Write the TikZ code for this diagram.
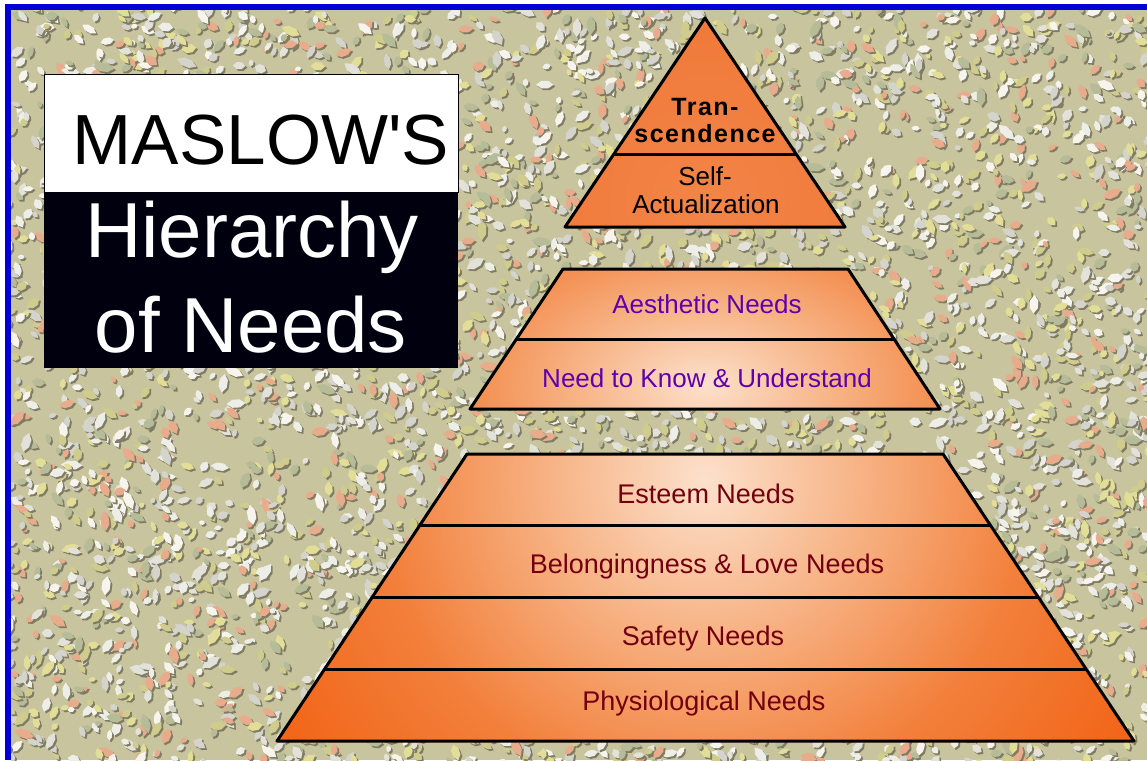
\documentclass[tikz,border=0pt]{standalone}
\usepackage{fontspec}
\setmainfont{Liberation Sans}
\newfontfamily\titlefont{Liberation Sans}
\definecolor{bordblue}{RGB}{0,0,215}
\definecolor{texbase}{RGB}{200,196,158}
\definecolor{texshadow}{RGB}{128,124,100}
\definecolor{tex1}{RGB}{226,226,218}
\definecolor{tex2}{RGB}{238,238,232}
\definecolor{tex3}{RGB}{212,212,204}
\definecolor{tex4}{RGB}{232,172,140}
\definecolor{tex5}{RGB}{226,222,152}
\definecolor{tex6}{RGB}{208,204,142}
\definecolor{tex7}{RGB}{182,188,152}
\definecolor{tex8}{RGB}{246,244,236}
\definecolor{titleblack}{RGB}{0,0,15}
\definecolor{midpurple}{RGB}{95,0,175}
\definecolor{lowred}{RGB}{115,0,15}
\pgfdeclareradialshading{glow}{\pgfpoint{0bp}{0bp}}{rgb(0bp)=(0.99,0.88,0.80); rgb(6bp)=(0.97,0.72,0.55); rgb(14bp)=(0.95,0.50,0.23); rgb(21bp)=(0.95,0.40,0.10); rgb(50bp)=(0.95,0.40,0.10)}
\pgfdeclareradialshading{softglow}{\pgfpoint{0bp}{0bp}}{rgb(0bp)=(0.95,0.52,0.28); rgb(25bp)=(0.93,0.43,0.17); rgb(50bp)=(0.93,0.43,0.17)}
\tikzset{
  lvl/.style={draw=black, line width=3pt, line join=round},
  divider/.style={draw=black, line width=3pt},
  embossed/.style={fill=#1, preaction={fill=texshadow, transform canvas={shift={(1.8,1.8)}}}},
  toptxt/.style={anchor=base, inner sep=0pt, text=black, font=\fontsize{25}{28}\selectfont\bfseries\addfontfeature{LetterSpace=6}},
  selftxt/.style={anchor=base, inner sep=0pt, text=black, font=\fontsize{26}{28}\selectfont},
  midtxt/.style={anchor=base, inner sep=0pt, text=midpurple, font=\fontsize{26}{30}\selectfont},
  lowtxt/.style={anchor=base, inner sep=0pt, text=lowred, font=\fontsize{27}{30}\selectfont},
  titletxt/.style={anchor=base, inner sep=0pt},
}
\newcommand\blobcalc{%
  \pgfmathparse{8+1142*rnd}\xdef\tbx{\pgfmathresult}%
  \pgfmathparse{6+758*rnd}\xdef\tby{\pgfmathresult}%
  \pgfmathparse{2.1+2.1*rnd}\xdef\tbr{\pgfmathresult}%
  \pgfmathparse{\tbr*(1.4+1.2*rnd)}\xdef\tbq{\pgfmathresult}%
  \pgfmathparse{180*rnd}\xdef\tba{\pgfmathresult}%
  \pgfmathparse{\tbq*cos(\tba)}\xdef\hAx{\pgfmathresult}%
  \pgfmathparse{\tbq*sin(\tba)}\xdef\hAy{\pgfmathresult}%
  \pgfmathparse{0.4*(\hAx)-\tbr*sin(\tba)}\xdef\hBx{\pgfmathresult}%
  \pgfmathparse{0.4*(\hAy)+\tbr*cos(\tba)}\xdef\hBy{\pgfmathresult}%
  \pgfmathparse{-0.4*(\hAx)-\tbr*sin(\tba)}\xdef\hCx{\pgfmathresult}%
  \pgfmathparse{-0.4*(\hAy)+\tbr*cos(\tba)}\xdef\hCy{\pgfmathresult}%
  \pgfmathparse{-(\hAx)}\xdef\hDx{\pgfmathresult}%
  \pgfmathparse{-(\hAy)}\xdef\hDy{\pgfmathresult}%
  \pgfmathparse{-(\hBx)}\xdef\hEx{\pgfmathresult}%
  \pgfmathparse{-(\hBy)}\xdef\hEy{\pgfmathresult}%
  \pgfmathparse{-(\hCx)}\xdef\hFx{\pgfmathresult}%
  \pgfmathparse{-(\hCy)}\xdef\hFy{\pgfmathresult}%
}
\begin{document}
\begin{tikzpicture}[x=1pt,y=-1pt]
\useasboundingbox (0,0) rectangle (1147,760);
\fill[white] (0,0) rectangle (1147,760);
% textured background
\begin{scope}
  \clip (11,10) rectangle (1147,760);
  \fill[texbase] (11,10) rectangle (1147,760);
  \pgfmathsetseed{4242}
  \foreach \k in {1,...,120}{
    \pgfmathtruncatemacro{\bc}{mod(\k,8)+1}
    \fill[embossed=tex\bc] \foreach \i in {1,...,42}{
      \pgfextra{\blobcalc}
      (\tbx,\tby) +(\hAx,\hAy) -- +(\hBx,\hBy) -- +(\hCx,\hCy) -- +(\hDx,\hDy) -- +(\hEx,\hEy) -- +(\hFx,\hFy) -- cycle
    };
  }
\end{scope}
% border
\fill[bordblue] (5,4) rectangle (1147,10);
\fill[bordblue] (5,4) rectangle (11,760);
% title box
\fill[white, draw=black, line width=1pt] (44,74) rectangle (458,192);
\fill[titleblack] (44,192) rectangle (458,368);
\node[titletxt, font=\titlefont\fontsize{71}{80}\selectfont] (maslow) at (261,164) {MASLOW'S};
\node[titletxt, text=white, font=\fontsize{78}{86}\selectfont] (hier) at (252,257) {Hierarchy};
\node[titletxt, text=white, font=\fontsize{78}{86}\selectfont] (needs) at (251,352) {of Needs};
% top triangle
\coordinate (A) at (705,18);
\coordinate (TL) at (565,227);
\coordinate (TR) at (845,227);
\coordinate (D1L) at (614,154);
\coordinate (D1R) at (796,154);
\begin{scope}
  \clip (A) -- (TR) -- (TL) -- cycle;
  \shade[shading=softglow] (705,200) ellipse [x radius=360, y radius=360];
\end{scope}
\draw[lvl] (A) -- (TR) -- (TL) -- cycle;
\draw[divider] (D1L) -- (D1R);
% middle trapezoid
\coordinate (ML1) at (563,269);
\coordinate (MR1) at (848,269);
\coordinate (ML2) at (517,339);
\coordinate (MR2) at (894,339);
\coordinate (ML3) at (470,409);
\coordinate (MR3) at (940,409);
\begin{scope}
  \clip (ML1) -- (MR1) -- (MR3) -- (ML3) -- cycle;
  \shade[shading=glow] (705,385) ellipse [x radius=490, y radius=300];
\end{scope}
\draw[lvl] (ML1) -- (MR1) -- (MR3) -- (ML3) -- cycle;
\draw[divider] (ML2) -- (MR2);
% bottom trapezoid
\coordinate (BL1) at (467,454);
\coordinate (BR1) at (943,454);
\coordinate (BL2) at (421,525);
\coordinate (BR2) at (990,525);
\coordinate (BL3) at (373,597);
\coordinate (BR3) at (1038,597);
\coordinate (BL4) at (325,669);
\coordinate (BR4) at (1086,669);
\coordinate (BL5) at (277,741);
\coordinate (BR5) at (1134,741);
\begin{scope}
  \clip (BL1) -- (BR1) -- (BR5) -- (BL5) -- cycle;
  \shade[shading=glow] (705,480) ellipse [x radius=580, y radius=570];
\end{scope}
\draw[lvl] (BL1) -- (BR1) -- (BR5) -- (BL5) -- cycle;
\draw[divider] (BL2) -- (BR2);
\draw[divider] (BL3) -- (BR3);
\draw[divider] (BL4) -- (BR4);
% labels
\node[toptxt] (tran) at (705,115) {Tran-};
\node[toptxt] (scend) at (705,142) {scendence};
\node[selftxt] (self) at (705,185) {Self-};
\node[selftxt] (actual) at (706,213) {Actualization};
\node[midtxt] (aesth) at (707,313) {Aesthetic Needs};
\node[midtxt] (know) at (707,387) {Need to Know \& Understand};
\node[lowtxt] (esteem) at (706,503) {Esteem Needs};
\node[lowtxt] (belong) at (707,573) {Belongingness \& Love Needs};
\node[lowtxt] (safety) at (703,645) {Safety Needs};
\node[lowtxt] (phys) at (704,710) {Physiological Needs};
\end{tikzpicture}
\end{document}
